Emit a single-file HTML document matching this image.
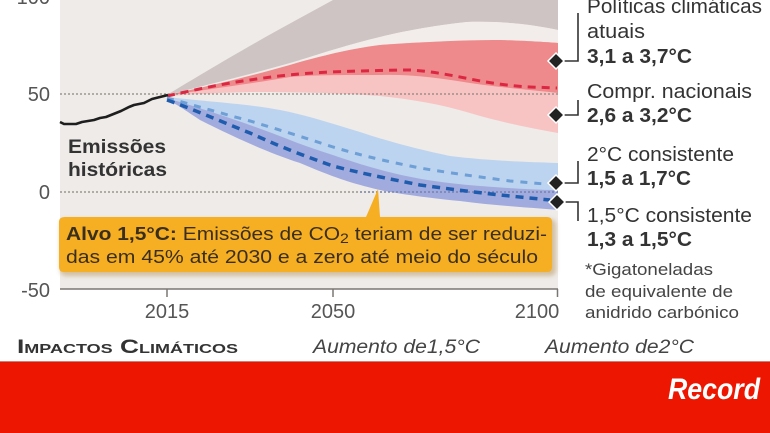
<!DOCTYPE html>
<html><head><meta charset="utf-8"><style>
html,body{margin:0;padding:0;background:#fff;}
svg{display:block;}
text{font-family:"Liberation Sans",Arial,sans-serif;}
</style></head><body>
<svg width="770" height="433" viewBox="0 0 770 433" xmlns="http://www.w3.org/2000/svg">
<defs>
<filter id="sh" x="-5%" y="-20%" width="110%" height="150%"><feGaussianBlur stdDeviation="2"/></filter>
</defs>
<rect x="0" y="0" width="770" height="433" fill="#fff"/>
<!-- plot background -->
<rect x="60" y="0" width="498" height="289" fill="#eeebe8"/>
<!-- gray band -->
<path d="M167,95 C200,75 250,45 300,18 L333,0 L558,0 L558,30 C530,24 500,21 467,22 C430,26 400,32 380,37 C350,44 320,54 300,60 C260,72 210,84 167,95 Z" fill="#cdc4c3"/>
<!-- light band between gray and red -->
<path d="M300,60 C320,54 350,44 380,37 C400,32 430,26 467,22 C500,21 530,24 558,30 L558,43 C530,41 500,40 467,40 C430,41 400,43 380,45 C350,49 330,54 300,62 Z" fill="#f2ecea"/>
<!-- pink band -->
<path d="M167,95 C210,86 260,74 300,62 C330,54 350,49 380,45 C420,42 467,40 500,40 C530,41 545,42 558,43 L558,133 C530,128 500,122 470,113 C440,104 410,99 380,96 C340,93 300,92 250,92 C210,93 185,95 167,96 Z" fill="#f8c3c3"/>
<!-- dark red band -->
<path d="M167,95 C210,86 260,74 300,62 C330,54 350,49 380,45 C420,42 467,40 500,40 C530,41 545,42 558,43 L558,93 C530,90 505,88 470,83 C440,78 410,74 380,75 C340,75 310,75 290,77 C250,84 200,90 167,96 Z" fill="#ee8a8b"/>
<!-- gridlines -->
<line x1="60" y1="94" x2="558" y2="94" stroke="#8a8580" stroke-width="1.3" stroke-dasharray="2 2"/>
<line x1="60" y1="192" x2="558" y2="192" stroke="#8a8580" stroke-width="1.3" stroke-dasharray="2 2"/>
<!-- light blue band -->
<path d="M167,97 C200,101 250,104 280,110 C310,116 333,124 360,132 C390,142 420,150 450,156 C490,161 530,162 558,163 L558,192 C520,191 490,189 470,188 C420,182 380,172 333,157 C290,140 250,126 200,110 Z" fill="#bcd4ef"/>
<!-- purple band -->
<path d="M167,98 C200,108 250,124 290,140 C310,148 333,155 360,164 C400,176 430,182 480,186 C520,189 540,190 558,190 L558,210 C520,207 490,205 460,201 C420,197 395,193 380,190 C350,183 333,177 300,163 C260,150 220,130 200,120 C185,110 175,103 167,100 Z" fill="#a2abdd"/>
<line x1="360" y1="192" x2="558" y2="192" stroke="#6f7aa8" stroke-width="1.2" stroke-dasharray="2 2"/>
<!-- dashed projections -->
<path d="M167,96 C190,91 220,84 250,80 C270,77 290,74 330,72 C360,71 390,70 410,70 C430,71 450,75 470,79 C490,83 510,86 530,87 L557,88" fill="none" stroke="#dc2743" stroke-width="3" stroke-dasharray="8 6"/>
<path d="M167,98 C190,104 220,113 250,121 C270,127 290,133 333,147 C360,155 380,160 420,168 C450,173 480,177 510,181 L545,184" fill="none" stroke="#6e9fd6" stroke-width="3" stroke-dasharray="7 7"/>
<path d="M167,100 C190,108 220,121 250,133 C270,142 290,151 333,166 C360,173 385,178 420,185 C450,189 480,193 510,196 L550,200" fill="none" stroke="#1f5cae" stroke-width="3.5" stroke-dasharray="8 6"/>
<!-- historical -->
<polyline points="60,122 64,124 70,124 76,124 82,122 88,121 94,120 100,118 106,117 111,115 116,113 121,111 125,109 129,107 134,105 139,104 144,103 148,101 152,99 156,98 160,97 164,96 168,95" fill="none" stroke="#1e1e1e" stroke-width="2.6" stroke-linejoin="round"/>
<!-- axis -->
<line x1="60" y1="289" x2="558" y2="289" stroke="#7a7672" stroke-width="1.5"/>
<line x1="167" y1="289" x2="167" y2="297" stroke="#7a7672" stroke-width="1.5"/>
<line x1="333" y1="289" x2="333" y2="297" stroke="#7a7672" stroke-width="1.5"/>
<line x1="557.5" y1="289" x2="557.5" y2="297" stroke="#7a7672" stroke-width="1.5"/>
<!-- y labels -->
<g fill="#555" font-size="20" text-anchor="end">
<text x="50" y="4">100</text>
<text x="50" y="101">50</text>
<text x="50" y="199">0</text>
<text x="50" y="297">-50</text>
</g>
<g fill="#555" font-size="20" text-anchor="middle">
<text x="167" y="318">2015</text>
<text x="333" y="318">2050</text>
<text x="537" y="318">2100</text>
</g>
<!-- Emissoes historicas -->
<g fill="#333" font-size="19.5" font-weight="bold">
<text x="68" y="153" textLength="98" lengthAdjust="spacingAndGlyphs">Emissões</text>
<text x="68" y="176" textLength="99" lengthAdjust="spacingAndGlyphs">históricas</text>
</g>
<!-- callout -->
<rect x="60" y="219" width="496" height="57" rx="6" fill="#b08a4a" opacity="0.45" filter="url(#sh)"/>
<path d="M65,217 H366 L378,189 L380,217 H547 Q552,217 552,222 V267 Q552,272 547,272 H64 Q59,272 59,267 V222 Q59,217 65,217 Z" fill="#f6ae23"/>
<g fill="#3a2f1c" font-size="18.5">
<text x="66" y="240" textLength="481" lengthAdjust="spacingAndGlyphs"><tspan font-weight="bold">Alvo 1,5°C:</tspan> Emissões de CO<tspan font-size="14" dy="3">2</tspan><tspan dy="-3"> teriam de ser reduzi-</tspan></text>
<text x="66" y="263" textLength="472" lengthAdjust="spacingAndGlyphs">das em 45% até 2030 e a zero até meio do século</text>
</g>
<!-- connectors -->
<g stroke="#333" stroke-width="1.6" fill="none">
<polyline points="556,61 578,61 578,13"/>
<polyline points="556,115 578,115 578,100"/>
<polyline points="556,183 578,183 578,161"/>
<polyline points="557,202 578,202 578,221"/>
</g>
<g fill="#222" stroke="#fff" stroke-width="1.5">
<path d="M556,53 L564,61 L556,69 L548,61 Z"/>
<path d="M556,107 L564,115 L556,123 L548,115 Z"/>
<path d="M556,175 L564,183 L556,191 L548,183 Z"/>
<path d="M557,194 L565,202 L557,210 L549,202 Z"/>
</g>
<!-- legend text -->
<g fill="#333" font-size="20">
<text x="587" y="13" textLength="175" lengthAdjust="spacingAndGlyphs">Políticas climáticas</text>
<text x="587" y="38" textLength="58" lengthAdjust="spacingAndGlyphs">atuais</text>
<text x="587" y="63" font-weight="bold" textLength="105" lengthAdjust="spacingAndGlyphs">3,1 a 3,7°C</text>
<text x="587" y="98" textLength="165" lengthAdjust="spacingAndGlyphs">Compr. nacionais</text>
<text x="587" y="122" font-weight="bold" textLength="105" lengthAdjust="spacingAndGlyphs">2,6 a 3,2°C</text>
<text x="587" y="161" textLength="147" lengthAdjust="spacingAndGlyphs">2°C consistente</text>
<text x="587" y="185" font-weight="bold" textLength="104" lengthAdjust="spacingAndGlyphs">1,5 a 1,7°C</text>
<text x="587" y="222" textLength="165" lengthAdjust="spacingAndGlyphs">1,5°C consistente</text>
<text x="587" y="246" font-weight="bold" textLength="105" lengthAdjust="spacingAndGlyphs">1,3 a 1,5°C</text>
</g>
<g fill="#444" font-size="16.5">
<text x="585" y="275" textLength="128" lengthAdjust="spacingAndGlyphs">*Gigatoneladas</text>
<text x="585" y="297" textLength="148" lengthAdjust="spacingAndGlyphs">de equivalente de</text>
<text x="585" y="318" textLength="154" lengthAdjust="spacingAndGlyphs">anidrido carbónico</text>
</g>
<!-- bottom labels -->
<text x="17" y="353" fill="#333" font-size="19" font-weight="bold" style="font-variant:small-caps" textLength="221" lengthAdjust="spacingAndGlyphs">Impactos Climáticos</text>
<g fill="#444" font-size="19" font-style="italic">
<text x="313" y="353" textLength="167" lengthAdjust="spacingAndGlyphs">Aumento de1,5°C</text>
<text x="545" y="353" textLength="149" lengthAdjust="spacingAndGlyphs">Aumento de2°C</text>
</g>
<!-- red bar -->
<rect x="0" y="362" width="770" height="71" fill="#ed1600"/>
<rect x="0" y="361" width="770" height="1.5" fill="#b0281a" opacity="0.6"/>
<text x="668" y="399" fill="#fff" font-family="Liberation Serif, serif" font-size="30" font-weight="bold" font-style="italic" textLength="92" lengthAdjust="spacingAndGlyphs">Record</text>
</svg>
</body></html>
